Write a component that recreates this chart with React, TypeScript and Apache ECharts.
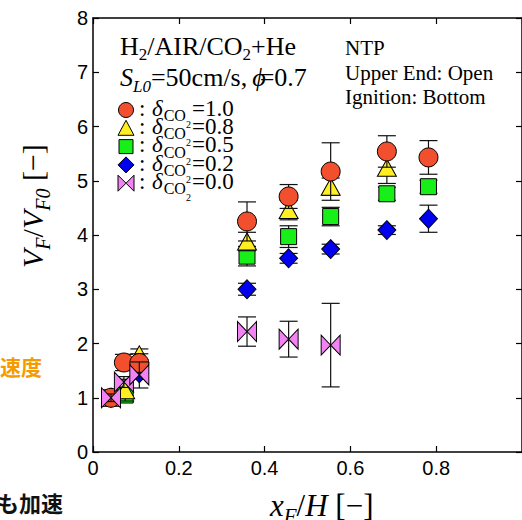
import React, { useEffect, useRef } from 'react';
import * as echarts from 'echarts';

// ---- data ----
const xTickLabels = ['0', '0.2', '0.4', '0.6', '0.8', '1'];
const yTickLabels = ['0', '1', '2', '3', '4', '5', '6', '7', '8'];
const legendValues = ['1.0', '0.8', '0.5', '0.2', '0.0'];

const redX = [0.042, 0.072, 0.108, 0.359, 0.456, 0.554, 0.685, 0.782];
const redY = [1.0, 1.65, 1.64, 4.25, 4.71, 5.17, 5.54, 5.43];
const redErr = [0.05, 0.15, 0.17, 0.36, 0.22, 0.53, 0.29, 0.31];

const yellowX = [0.042, 0.075, 0.108, 0.359, 0.456, 0.554, 0.685];
const yellowY = [1.0, 1.14, 1.8, 3.88, 4.46, 4.89, 5.24];
const yellowErr = [0.05, 0.2, 0.1, 0.17, 0.18, 0.16, 0.29];

const greenX = [0.042, 0.075, 0.359, 0.456, 0.554, 0.685, 0.782];
const greenY = [1.0, 1.05, 3.61, 3.97, 4.34, 4.76, 4.89];
const greenErr = [0.05, 0.05, 0.18, 0.2, 0.17, 0.12, 0.12];

const blueX = [0.042, 0.108, 0.359, 0.456, 0.554, 0.685, 0.782];
const blueY = [1.0, 1.45, 3.0, 3.57, 3.74, 4.09, 4.3];
const blueErr = [0.05, 0.1, 0.11, 0.09, 0.09, 0.08, 0.25];

const pinkX = [0.042, 0.072, 0.108, 0.359, 0.456, 0.554];
const pinkY = [1.0, 1.29, 1.42, 2.22, 2.08, 1.97];
const pinkErr = [0.07, 0.1, 0.24, 0.27, 0.33, 0.77];

// ---- styling ----
const SERIF = '"Liberation Serif", "Times New Roman", serif';
const SANS = '"Liberation Sans", Arial, sans-serif';
const CJK = '"Noto Sans CJK JP", "Noto Sans CJK SC", sans-serif';
const BOWTIE = 'path://M0,0L10,10L0,20ZM20,0L10,10L20,20Z';

const COLORS = ['#F24F2E', '#FFEE22', '#18EE18', '#0000EE', '#F283F2'];

let measCtx: CanvasRenderingContext2D | null = null;
function textWidth(t: string, font: string): number {
  if (!measCtx) measCtx = document.createElement('canvas').getContext('2d');
  if (!measCtx) return t.length * 10;
  measCtx.font = font;
  return measCtx.measureText(t).width;
}

type Frag = { t: string; s: number; i?: boolean; dy?: number; dx?: number };
function runs(frags: Frag[], x0: number, base: number, fill = '#000'): any[] {
  const out: any[] = [];
  let x = x0;
  for (const f of frags) {
    x += f.dx ?? 0;
    const font = `${f.i ? 'italic ' : ''}${f.s}px ${SERIF}`;
    out.push({
      type: 'text',
      x,
      y: base + (f.dy ?? 0) - 0.34 * f.s,
      silent: true,
      style: { text: f.t, font, fill, align: 'left', verticalAlign: 'middle' },
    });
    x += textWidth(f.t, font);
  }
  return out;
}

function errData(xs: number[], ys: number[], es: number[]) {
  return xs.map((x, i) => [x, ys[i] - es[i], ys[i] + es[i]]);
}
function ptData(xs: number[], ys: number[]) {
  return xs.map((x, i) => [x, ys[i]]);
}

function errorSeries(xs: number[], ys: number[], es: number[], z: number) {
  return {
    type: 'custom',
    z,
    silent: true,
    data: errData(xs, ys, es),
    renderItem: (_p: any, api: any) => {
      const x = api.value(0);
      const lo = api.coord([x, api.value(1)]);
      const hi = api.coord([x, api.value(2)]);
      const w = 9;
      const st = { stroke: '#111', lineWidth: 1.2 };
      return {
        type: 'group',
        children: [
          { type: 'line', shape: { x1: lo[0], y1: lo[1], x2: hi[0], y2: hi[1] }, style: st },
          { type: 'line', shape: { x1: lo[0] - w, y1: lo[1], x2: lo[0] + w, y2: lo[1] }, style: st },
          { type: 'line', shape: { x1: hi[0] - w, y1: hi[1], x2: hi[0] + w, y2: hi[1] }, style: st },
        ],
      };
    },
  };
}

function scatterSeries(xs: number[], ys: number[], symbol: string, size: any, color: string, z: number) {
  return {
    type: 'scatter',
    z,
    symbol,
    symbolSize: size,
    data: ptData(xs, ys),
    itemStyle: { color, borderColor: '#000', borderWidth: 1, opacity: 1 },
  };
}

function legendMarker(i: number, cx: number, cy: number): any[] {
  const st = { fill: COLORS[i], stroke: '#000', lineWidth: 1 };
  switch (i) {
    case 0:
      return [{ type: 'circle', shape: { cx, cy, r: 7.5 }, style: st }];
    case 1:
      return [{ type: 'polygon', shape: { points: [[cx - 8, cy + 7], [cx + 8, cy + 7], [cx, cy - 8]] }, style: st }];
    case 2:
      return [{ type: 'rect', shape: { x: cx - 7, y: cy - 7, width: 14, height: 14 }, style: st }];
    case 3:
      return [{ type: 'polygon', shape: { points: [[cx, cy - 8], [cx + 8, cy], [cx, cy + 8], [cx - 8, cy]] }, style: st }];
    default:
      return [
        { type: 'polygon', shape: { points: [[cx - 8, cy - 8], [cx, cy], [cx - 8, cy + 8]] }, style: st },
        { type: 'polygon', shape: { points: [[cx + 8, cy - 8], [cx, cy], [cx + 8, cy + 8]] }, style: st },
      ];
  }
}

function buildGraphics(): any[] {
  const g: any[] = [];
  // title block
  g.push(
    ...runs(
      [
        { t: 'H', s: 26 },
        { t: '2', s: 17, dy: 5 },
        { t: '/AIR/CO', s: 26 },
        { t: '2', s: 17, dy: 5 },
        { t: '+He', s: 26 },
      ],
      120,
      55
    )
  );
  g.push(
    ...runs(
      [
        { t: 'S', s: 26, i: true },
        { t: 'L0', s: 17, i: true, dy: 6 },
        { t: '=50cm/s,', s: 26 },
        { t: 'ϕ', s: 26, i: true, dx: 5 },
        { t: '=0.7', s: 26, dx: -6 },
      ],
      120,
      86
    )
  );
  g.push(...runs([{ t: 'NTP', s: 21 }], 345, 55));
  g.push(...runs([{ t: 'Upper End: Open', s: 21 }], 345, 80));
  g.push(...runs([{ t: 'Ignition: Bottom', s: 21 }], 345, 104));

  // legend
  legendValues.forEach((v, i) => {
    const cy = 110 + 18.3 * i;
    g.push(...legendMarker(i, 126, cy));
    g.push(...runs([{ t: ':', s: 23 }], 139, cy + 6));
    g.push(
      ...runs(
        [
          { t: 'δ', s: 23, i: true },
          { t: 'CO', s: 16, dy: 5, dx: 1 },
          { t: '2', s: 10, dy: 12 },
          { t: '=' + v, s: 23, dx: 1 },
        ],
        152,
        cy + 6
      )
    );
  });

  // x axis title
  g.push(
    ...runs(
      [
        { t: 'x', s: 31, i: true },
        { t: 'F', s: 21, i: true, dy: 7 },
        { t: '/', s: 31 },
        { t: 'H', s: 31, i: true },
        { t: ' [−]', s: 31 },
      ],
      270,
      516
    )
  );

  // y axis title (rotated)
  g.push({
    type: 'group',
    x: 43,
    y: 268,
    rotation: Math.PI / 2,
    children: runs(
      [
        { t: 'V', s: 30, i: true },
        { t: 'F', s: 20, i: true, dy: 7 },
        { t: '/', s: 30 },
        { t: 'V', s: 30, i: true },
        { t: 'F0', s: 20, i: true, dy: 7 },
        { t: ' [−]', s: 30 },
      ],
      0,
      0
    ),
  });

  // clipped slide texts on the left
  g.push({
    type: 'text',
    x: 42,
    y: 366,
    silent: true,
    style: { text: '速度', font: `bold 21px ${CJK}`, fill: '#F59A00', align: 'right', verticalAlign: 'middle' },
  });
  g.push({
    type: 'text',
    x: 63,
    y: 502,
    silent: true,
    style: { text: 'も加速', font: `bold 22px ${CJK}`, fill: '#111', align: 'right', verticalAlign: 'middle' },
  });
  return g;
}

const axisLineStyle = { color: '#000', width: 1.5 };

export default function App() {
  const ref = useRef<HTMLDivElement>(null);
  useEffect(() => {
    if (!ref.current) return;
    const chart = echarts.init(ref.current, undefined, { renderer: 'svg' });
    const baseX = {
      type: 'value' as const,
      min: 0,
      max: 1,
      interval: 0.2,
      splitLine: { show: false },
      axisLine: { show: true, onZero: false, lineStyle: axisLineStyle },
      axisTick: { show: true, inside: true, length: 6, lineStyle: { color: '#000', width: 1.2 } },
    };
    const baseY = {
      type: 'value' as const,
      min: 0,
      max: 8,
      interval: 1,
      splitLine: { show: false },
      axisLine: { show: true, onZero: false, lineStyle: axisLineStyle },
      axisTick: { show: true, inside: true, length: 6, lineStyle: { color: '#000', width: 1.2 } },
    };
    chart.setOption({
      animation: false,
      backgroundColor: '#fff',
      grid: { left: 93, top: 18, width: 434, height: 434, containLabel: false },
      xAxis: [
        {
          ...baseX,
          position: 'bottom',
          axisLabel: {
            show: true,
            color: '#000',
            fontFamily: SANS,
            fontSize: 20,
            margin: 6,
            showMaxLabel: false,
            formatter: (v: number) => xTickLabels[Math.round(v / 0.2)] ?? '',
          },
        },
        { ...baseX, position: 'top', axisLabel: { show: false } },
      ],
      yAxis: [
        {
          ...baseY,
          position: 'left',
          axisLabel: {
            show: true,
            color: '#000',
            fontFamily: SANS,
            fontSize: 20,
            margin: 5,
            formatter: (v: number) => yTickLabels[Math.round(v)] ?? '',
          },
        },
        { ...baseY, position: 'right', axisLabel: { show: false } },
      ],
      graphic: buildGraphics(),
      series: [
        errorSeries(blueX, blueY, blueErr, 2),
        scatterSeries(blueX, blueY, 'diamond', [18, 19], COLORS[3], 3),
        errorSeries(greenX, greenY, greenErr, 4),
        scatterSeries(greenX, greenY, 'rect', 16, COLORS[2], 5),
        errorSeries(yellowX, yellowY, yellowErr, 6),
        scatterSeries(yellowX, yellowY, 'triangle', [19, 17], COLORS[1], 7),
        errorSeries(redX, redY, redErr, 8),
        scatterSeries(redX, redY, 'circle', 19, COLORS[0], 9),
        errorSeries(pinkX, pinkY, pinkErr, 10),
        scatterSeries(pinkX, pinkY, BOWTIE, [19, 20], COLORS[4], 11),
      ],
    });
    return () => chart.dispose();
  }, []);
  return (
    <div
      ref={ref}
      style={{ position: 'absolute', left: 0, top: 0, width: 522, height: 520, overflow: 'hidden' }}
    />
  );
}
